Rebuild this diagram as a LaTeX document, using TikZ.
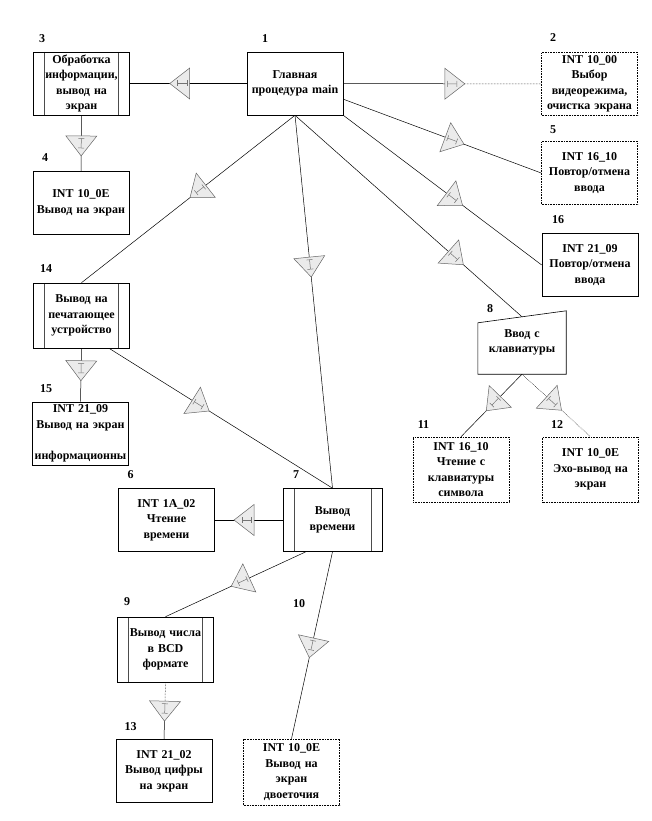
\documentclass[tikz,border=0pt]{standalone}
\usepackage{fontspec}
\setmainfont{Liberation Serif}
\usetikzlibrary{shapes.geometric, positioning}
\newcommand{\ibeam}{\textcolor{black!55}{\rule[-3pt]{0.5pt}{6pt}\rule[-0.25pt]{9pt}{0.5pt}\rule[-3pt]{0.5pt}{6pt}}}
\tikzset{every node/.style={font=\bfseries\fontsize{12}{15.5}\selectfont},
         block/.style={draw, line width=0.6pt, fill=white, minimum width=96pt,
                       minimum height=63pt, inner sep=1pt, text width=92pt, align=center},
         dotblock/.style={block, densely dotted},
         subblock/.style={block,
             path picture={\draw[black!70, solid]
                 ([xshift=11pt]path picture bounding box.north west) -- ([xshift=11pt]path picture bounding box.south west)
                 ([xshift=-11pt]path picture bounding box.north east) -- ([xshift=-11pt]path picture bounding box.south east);}},
         callmark/.style={isosceles triangle, isosceles triangle apex angle=75,
                          isosceles triangle stretches, minimum width=31pt, minimum height=20pt,
                          inner sep=0pt, draw=black!60, fill=black!8, solid, line width=0.5pt,
                          sloped, allow upside down},
         conn/.style={line width=0.5pt},
         num/.style={inner sep=0pt, font=\bfseries\fontsize{12}{14}\selectfont},
         }

\begin{document}
\begin{tikzpicture}[x=1pt, y=-1pt]
    \useasboundingbox (0,0) rectangle (652,821);

    % blocks
    \node[block] (n1) at (295,83.5) {Главная\\процедура main};
    \node[dotblock] (n2) at (589.5,84) {INT 10\_00\\Выбор\\видеорежима,\\очистка экрана};
    \node[subblock] (n3) at (81.5,83.5) {Обработка\\информации,\\вывод на\\экран};
    \node[block] (n4) at (81,203) {INT 10\_0E\\Вывод на экран};
    \node[dotblock] (n5) at (589.5,173) {INT 16\_10\\Повтор/отмена\\ввода};
    \node[block] (n16) at (590,265) {INT 21\_09\\Повтор/отмена\\ввода};
    \node[subblock, minimum height=65pt] (n14) at (81.5,315.5) {Вывод на\\печатающее\\устройство};
    \node[block] (n15) at (80.5,433.5) {INT 21\_09\\Вывод на экран\\[15.5pt]информационны};
    \node[minimum width=88pt, minimum height=63pt, text width=86pt, align=center, inner sep=1pt] (n8) at (522,342.5) {Ввод с\\клавиатуры};
    \draw[line width=0.6pt] ([yshift=-12pt]n8.north west) -- (n8.north east) -- (n8.south east) -- (n8.south west) -- cycle;
    \coordinate (t8) at ([yshift=-6pt]n8.north);
    \node[dotblock, minimum height=65pt] (n11) at (461,469.5) {INT 16\_10\\Чтение с\\клавиатуры\\символа};
    \node[dotblock, minimum height=65pt] (n12) at (590.5,469.5) {INT 10\_0E\\Эхо-вывод на\\экран};
    \node[block] (n6) at (166.5,520) {INT 1A\_02\\Чтение\\времени};
    \node[subblock, minimum width=99pt] (n7) at (332.5,520) {Вывод\\времени};
    \node[subblock, minimum height=65pt] (n9) at (165.5,649.5) {Вывод числа\\в BCD\\формате};
    \node[block] (n13) at (164,771) {INT 21\_02\\Вывод цифры\\на экран};
    \node[dotblock, minimum height=66pt] (n10) at (291.5,772) {INT 10\_0E\\Вывод на\\экран\\двоеточия};

    % numbers
    \node[num] (l1) at (265,39) {1};
    \node[num] (l2) at (553,38) {2};
    \node[num] (l3) at (42,39) {3};
    \node[num] (l4) at (45,158) {4};
    \node[num] (l5) at (553,130) {5};
    \node[num] (l6) at (130.5,475) {6};
    \node[num] (l7) at (296,475) {7};
    \node[num] (l8) at (490,309) {8};
    \node[num] (l9) at (127,602) {9};
    \node[num] (l10) at (299,604) {10};
    \node[num] (l11) at (423.5,425) {11};
    \node[num] (l12) at (557,425) {12};
    \node[num] (l13) at (130.5,727) {13};
    \node[num] (l14) at (46,269) {14};
    \node[num] (l15) at (46,389) {15};
    \node[num] (l16) at (558,220) {16};

    % calls
    \draw[conn] (n1.west) edge node[callmark, pos=.55] {\ibeam} (n3.east)
                (n1.-18) edge node[callmark, pos=.55] {\ibeam} (n5.west)
                (n1.south east) edge node[callmark, pos=.55] {\ibeam} (n16.west)
                (n1.south) edge node[callmark, pos=.70] {\ibeam} (t8)
                (n1.south) edge node[callmark, pos=.445] {\ibeam} (n14.north)
                (n1.south) edge node[callmark, pos=.40] {\ibeam} (n7.north)
                (n3.south) edge node[callmark, pos=.5] {\ibeam} (n4.north)
                (n14.south) edge node[callmark, pos=.37] {\ibeam} (n15.north)
                (n14.-50) edge node[callmark, pos=.40] {\ibeam} (n7.north)
                (n8.south) edge node[callmark, pos=.44] {\ibeam} (n11.north)
                (n7.west) edge node[callmark, pos=.53] {\ibeam} (n6.east)
                (n7.-130) edge node[callmark, pos=.45] {\ibeam} (n9.north)
                (n7.south) edge node[callmark, pos=.50] {\ibeam} (n10.north);
    \draw[conn, densely dotted] (n8.south) edge node[callmark, pos=.44] {\ibeam} (n12.north);

    \path (n1.east) -- coordinate[pos=.55] (t12) (n2.west);
    \draw[conn] (n1.east) -- (t12);
    \draw[conn, densely dotted] (t12) -- node[callmark, pos=0] {\ibeam} (n2.west);

    \path (n9.south) -- coordinate[pos=.46] (t913) (n13.north);
    \draw[conn, densely dotted] (n9.south) -- (t913);
    \draw[conn] (t913) -- node[callmark, pos=0] {\ibeam} (n13.north);
\end{tikzpicture}
\end{document}
